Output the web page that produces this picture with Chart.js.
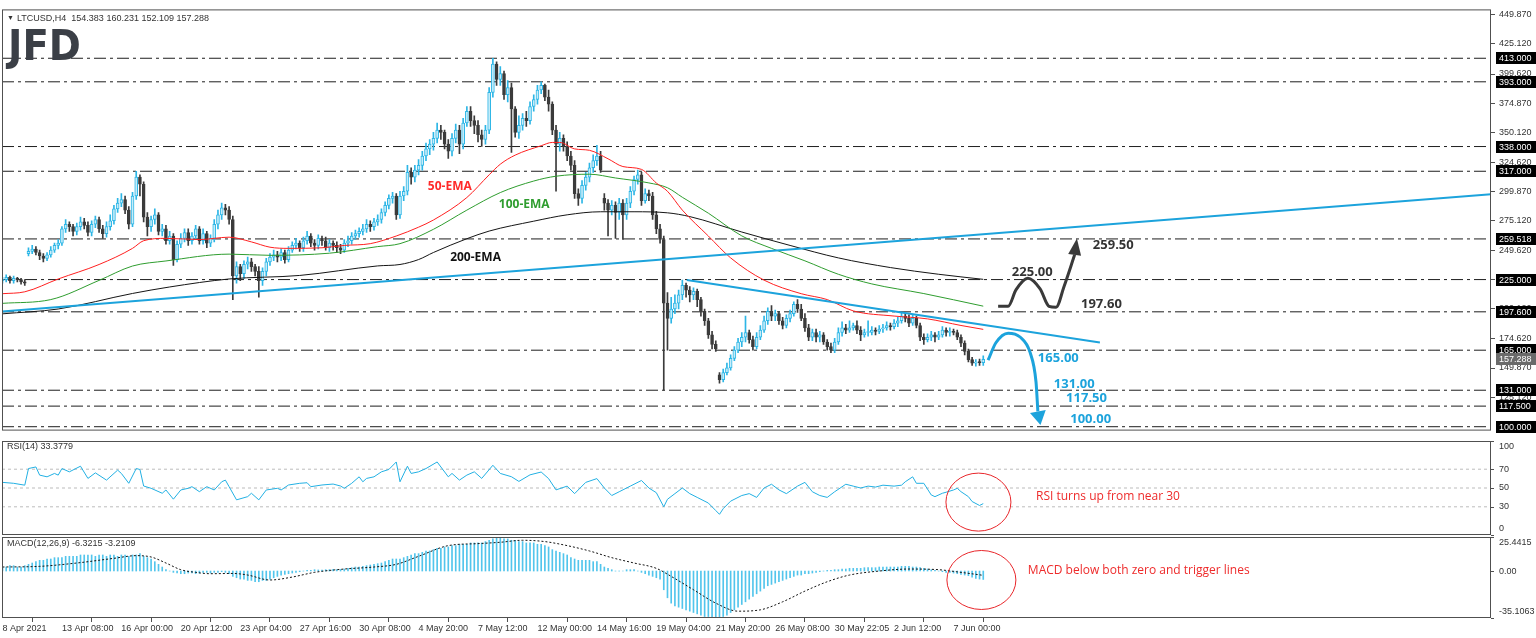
<!DOCTYPE html>
<html>
<head>
<meta charset="utf-8">
<script src="https://cdn.jsdelivr.net/npm/chart.js@4.4.0/dist/chart.umd.min.js"></script>
<style>
  body { margin: 0; padding: 0; background: #fff; }
  #wrap { position: relative; width: 1536px; height: 638px; overflow: hidden; background: #fff; }
  canvas { position: absolute; left: 0; }
  #main { top: 0; }
  #rsi { top: 440px; }
  #macd { top: 536px; }
</style>
</head>
<body>
<div id="wrap">
  <canvas id="main" width="1536" height="440"></canvas>
  <canvas id="rsi" width="1536" height="96"></canvas>
  <canvas id="macd" width="1536" height="102"></canvas>
</div>
<script>
// ---- price data (H4 candles) ----
const closes = [
  225,227,224,226,225,223,222,249,251,248,
  245,243,246,250,254,256,268,272,270,266,
  270,274,271,265,272,276,268,264,270,275,
  285,290,293,284,272,296,312,306,278,270,
  276,280,266,268,258,262,242,255,260,265,
  258,262,268,258,264,256,260,272,280,286,
  284,276,228,236,230,238,240,236,232,224,
  232,240,244,246,244,248,242,250,254,256,
  252,258,262,256,254,260,258,252,256,254,
  252,250,256,258,262,264,266,268,272,270,
  274,276,282,288,294,296,280,296,300,316,
  312,318,322,330,336,340,345,352,350,340,
  334,345,352,340,358,368,360,356,348,344,
  352,384,408,395,400,382,388,370,350,356,
  362,360,372,378,386,390,380,374,352,340,
  345,338,330,322,298,294,305,312,320,326,
  330,318,290,284,288,282,290,280,290,300,
  310,314,292,298,296,280,268,259,205,192,
  200,205,212,220,216,212,215,208,198,190,
  178,170,166,140,146,150,158,165,172,176,
  180,174,168,176,182,190,198,194,196,190,
  186,192,196,204,200,192,184,176,180,176,
  178,172,168,165,172,180,184,182,184,186,
  182,178,180,180,182,181,183,184,186,185,
  188,190,194,192,188,192,186,176,174,176,
  178,176,178,182,180,181,180,176,171,164,
  157,154,154.4,154.383,157.288
];
const highs = [
  227,229,228,228,227,226,225,252,254,253,
  250,247,248,253,256,259,270,276,274,272,
  273,278,277,274,275,279,278,271,274,280,
  288,294,298,296,287,299,317,314,308,282,
  279,285,282,272,271,266,264,258,264,268,
  268,265,271,270,268,266,263,276,284,290,
  289,287,279,240,238,241,244,243,238,236,
  235,243,247,250,249,251,250,253,257,260,
  258,261,266,264,259,263,262,261,259,258,
  257,255,259,262,265,267,269,272,276,275,
  277,280,285,291,297,299,298,300,304,322,
  320,322,327,334,341,344,350,358,356,352,
  344,349,357,356,362,372,372,364,360,352,
  356,388,413,410,406,402,394,392,372,364,
  366,368,376,382,390,393,391,386,376,356,
  350,348,342,334,326,302,309,316,324,331,
  339,334,298,293,292,291,294,293,294,304,
  313,318,316,302,301,299,283,272,262,214,
  210,212,216,224.5,222,219,218,217,210,200,
  192,181,173,146,149,154,161,168,175,180,
  194,182,177,180,186,194,201,203,199,198,
  193,195,199,206,208,204,196,187,183,183,
  181,180,174,171,175,184,189,187,190,188,
  190,185,183,190,185,184,186,187,189,188,
  191,193,197,196,195,195,194,188,179,179,
  181,180,181,185,184,184,183,182,178,173,
  166,159,157,157.5,160.231
];
const lows = [
  222,223,222,222,223,221,220,245,247,246,
  242,240,241,244,248,251,254,265,266,262,
  263,267,268,262,262,269,265,260,261,267,
  272,282,287,281,268,270,293,296,274,262,
  266,272,263,262,255,255,237,240,252,257,
  254,255,259,255,255,252,253,257,268,276,
  280,272,208,222,224,226,234,232,228,210,
  220,228,237,241,240,241,239,240,248,251,
  249,249,255,253,250,251,254,250,249,250,
  248,247,248,253,255,259,261,263,265,266,
  267,271,273,279,285,290,276,277,292,297,
  306,308,314,318,326,331,335,341,344,336,
  328,330,341,332,336,355,355,349,342,338,
  340,349,380,390,390,378,376,333,346,345,
  352,355,357,368,374,383,377,368,348,300,
  334,334,326,318,294,288,290,301,308,316,
  322,316,284,262,280,260,276,259,276,286,
  297,306,288,290,292,276,264,256,131,165,
  188,196,200,208,210,206,208,202,194,186,
  175,166,164,137,138,144,148,156,163,168,
  172,171,165,166,174,180,187,190,190,187,
  183,184,189,194,197,190,181,173,173,172,
  172,170,165,163,163,170,177,179,180,182,
  179,173,176,177,178,178,179,180,182,182,
  183,185,188,189,185,186,184,173,170,172,
  173,172,174,176,177,177,178,174,168,161,
  155,152,151.5,152,152.109
];
// bars that opened away from the previous close (weekend gaps)
const gapOpens = { 0: 224, 7: 247, 162: 294, 193: 144 };

// moving averages, sampled along the drawn lines (bar index, value)
const ema50Bars = [0,6,15,26,35,38,44,53,61,67,72,77,86,92,99,106,112,116,125,131,134,138,145,148,150,154,158,163,167,172,176,179,183,190,196,205,215,222,229,240,249,258,264];
const ema50Vals = [213,214.6,225.5,237.8,251.5,258,260,259,261,257,252.5,251.5,252,254,255.5,262,269.5,275.6,294.7,314,323,330.7,338.7,341.5,341.5,336,334.8,327.6,321,318.6,307,300,284,262,243.4,224.5,213,208,198.4,194,191.6,186,182.7];
const ema100Bars = [0,13,26,35,44,61,72,88,101,107,116,125,134,143,149,158,165,174,179,183,190,199,207,216,225,234,248,264];
const ema100Vals = [204.8,208,224.3,236.5,240.8,246.6,245.6,247.4,253,255.5,267.7,284,298.9,308.7,312.8,314.5,311.3,307.1,303,294.9,281.4,262.1,251.5,240.9,229.5,221.3,213.1,202.4];
const ema200Bars = [0,15,35,45,61,80,101,107,112,116,125,131,143,152,161,170,179,185,199,212,225,239,252,264];
const ema200Vals = [195.9,200,213.2,218.7,225.5,228.5,236.6,237.8,242,248,259.7,266.2,274.6,280,282.6,282.6,281.7,278.5,265.4,254,243.4,235.2,229.5,225.2];

// horizontal support / resistance levels and right axis ticks
const levels = [413, 393, 338, 317, 259.518, 225, 197.6, 165, 131, 117.5, 100];
const priceTicks = [449.87, 425.12, 399.62, 374.87, 350.12, 324.62, 299.87, 275.12, 249.62, 224.87, 200.12, 174.62, 149.87, 125.12];
const lastPrice = 157.288;

// trend lines: [bar, price] end points
const upTrend = [[-0.13, 197.9], [400.67, 297.5]];
const downTrend = [[184.2, 224.7], [295.4, 171.5]];

// scenario arrows
const blackArrowBars = [268.0, 270.7, 272.8, 276.0, 279.3, 281.7, 283.6, 285.7, 288.6];
const blackArrowVals = [202.3, 202.3, 216.2, 226.1, 217.1, 202.3, 201.5, 218.7, 246];
const blackArrowTip = [289.2, 259.8];
const blueArrowBars = [265.3, 267.4, 270.7, 273.9, 276.6, 278.2, 278.7];
const blueArrowVals = [156.5, 171.3, 179.5, 176.2, 163.1, 138, 113];
const blueArrowTip = [279.4, 101.4];

// RSI(14)
const rsiBars = [0,3,6,7,9,10,12,14,15,16,18,21,23,25,28,31,32,34,36,37,38,40,43,44,46,48,50,51,53,55,57,59,60,61,63,66,67,69,71,74,75,77,80,82,83,86,89,91,92,94,96,97,98,100,102,104,106,107,109,110,112,114,117,120,121,123,125,127,129,132,134,137,139,142,145,147,149,152,154,157,160,162,164,166,169,172,174,176,178,179,181,183,185,187,190,192,193,194,196,199,201,203,205,207,209,211,214,216,218,220,222,224,227,229,231,233,235,237,240,242,243,245,246,248,250,251,253,254,256,257,258,260,261,263,264];
const rsiVals = [56,55,53,70.7,72.4,63.7,61.9,65.5,63.7,70.7,67.2,73.2,60.2,66.1,58.4,69,65.5,55,70.7,69.7,52.1,49.7,44.4,47.9,38.1,47.9,49.7,51.4,46.1,51.4,47.9,56.6,58.4,51.4,37.4,40.8,44.4,37.4,47.9,49.7,47.9,53.2,55,55.6,51.4,53.2,54.2,52.1,49.7,55,61.9,56.6,60.2,61.9,67.2,69.7,77.7,56.6,73.2,65.5,67.2,70.7,77.7,61.9,65.5,58.4,63.7,67.2,60.2,74.2,65.5,62,57,64,67,60,48,52,44,56,60,50,42,46,52,58,50,45,30,38,44,50,44,40,34,26,22,28,36,42,44,40,50,54,48,44,52,56,46,42,40,46,54,52,50,52,51,53,52,53,56.6,61.9,55,55,42.6,40.8,44.4,45.5,47.9,49.7,46.1,40.8,35.6,31.4,33.38];
const rsiLevels = [70, 50, 30];

// MACD(12,26,9): histogram per bar, signal line sampled
const macdHist = [
  3,3,4,4,3,3,4,5,6,
  7,8,8,9,9,10,10,10,11,11,11,11,12,
  12,12,12,11,12,12,11,12,12,11,12,12,11,12,12,13,
  11,10,9,7,5,3,1,0,
  -1,-1.5,-2,-2,-1.5,-1.5,-2,-1.5,
  -1,-1,-1.5,-1,-1,-0.5,-1,-2,
  -4,-5,-6,-6,-7,-7,-8,-8,-7,-7,-6,
  -5,-4,-3,-2.5,-2,-1.5,-1,-0.5,
  0,0.5,0.5,1,0.8,0.8,1,1,1.2,1,1.2,1.5,
  2,2.5,3,3,3.5,4,4.5,5,5.5,6,7,8,9,9,9,
  10,11,12,13,13,14,15,15,16,17,17,18,18,19,19,20,20,20,21,
  21,21,21,22,23,24,25.4,25,24,
  24,23,23,22,22,21,21,21,20,20,19,18,
  16,15,14,13,12,10,9,8,8,8,8,7,7,
  5,3,2,1,0,0,0,1,1,1,
  0,-1,-2,-3,-4,-5,-6,
  -14,-20,-24,-26,-27,-28,-29,-30,-31,-32,-33,-34,-34,-35,-35,
  -35.1,-34,-33,-31,-29,-27,-25,-23,-21,-19,-17,-15,-13,
  -11,-10,-9,-8,-7,-6,-5,-4,-3,-3,-2,-2,-1.5,
  -1,-0.5,0,0.5,0.5,1,1,1.5,1.5,2,2,2,2,2.5,2.5,2.5,2.5,
  3,3,3,3,3,3,3.5,3.5,3.5,3,3,2.5,2,1.5,1,
  0.5,0,-0.5,-1,-1,-1.5,-2,-2.5,-3,-3.5,-4.5,-5.5,-6,-6.3
];
const sigBars = [0,10,20,30,36,40,44,48,52,56,62,66,72,78,84,92,100,106,112,120,128,134,140,146,152,158,164,170,176,180,186,192,198,204,210,216,222,228,236,244,252,258,264];
const sigVals = [3,3.5,6,9.5,11.5,10.5,6,1,-1,-2,-1.8,-3,-6.7,-4.5,-1,1.5,3,5,11,19,20.5,21.5,23,22,19,15,10,6,2,-4,-14,-24,-30,-29,-23,-15,-8,-3,0,1.5,1,-1,-3.21];

// time axis
const xLabelBars = [0,16,32,48,64,80,96,112,128,144,160,176,192,208,224,240,256];
const xLabels = ['8 Apr 2021','13 Apr 08:00','16 Apr 00:00','20 Apr 12:00','23 Apr 04:00','27 Apr 16:00','30 Apr 08:00','4 May 20:00','7 May 12:00','12 May 00:00','14 May 16:00','19 May 04:00','21 May 20:00','26 May 08:00','30 May 22:05','2 Jun 12:00','7 Jun 00:00'];

// ---- layout / style ----
const X_MIN = -0.13, X_MAX = 400.67;
const P_MIN = 96.7, P_MAX = 454.5;
const MACD_MIN = -35.1063, MACD_MAX = 25.4415;
const FAMILY = '"Liberation Sans", Arial, sans-serif';
const FRAME = '#505050';
const BULL_LINE = '#2db6e6', BULL_FILL = '#c6ecf9', BEAR = '#3b3b3b';
const BLUE = '#1ca3dc';

const opens = closes.map((c, i) => (gapOpens[i] !== undefined ? gapOpens[i] : closes[i - 1]));
const isBull = closes.map((c, i) => c >= opens[i]);
const pts = (bars, vals) => bars.map((b, i) => ({ x: b, y: vals[i] }));

// notes on the price panel, anchored at (bar, price), left/middle
const priceNotes = [
  { text: '50-EMA', bar: 114.5, price: 303.9, color: '#ff2a2a', font: 'bold 12px "Open Sans"' },
  { text: '100-EMA', bar: 133.6, price: 288.3, color: '#2f9d2f', font: 'bold 12px "Open Sans"' },
  { text: '200-EMA', bar: 120.5, price: 243.3, color: '#111', font: 'bold 12px "Open Sans"' },
  { text: '225.00', bar: 271.7, price: 231, color: '#333', font: 'bold 13px "Open Sans"' },
  { text: '259.50', bar: 293.5, price: 253.9, color: '#333', font: 'bold 13px "Open Sans"' },
  { text: '197.60', bar: 290.3, price: 204, color: '#333', font: 'bold 13px "Open Sans"' },
  { text: '165.00', bar: 278.7, price: 158.1, color: BLUE, font: 'bold 13px "Open Sans"' },
  { text: '131.00', bar: 283.0, price: 136, color: BLUE, font: 'bold 13px "Open Sans"' },
  { text: '117.50', bar: 286.3, price: 123.8, color: BLUE, font: 'bold 13px "Open Sans"' },
  { text: '100.00', bar: 287.4, price: 106.6, color: BLUE, font: 'bold 13px "Open Sans"' }
];

function frame(ctx, a) {
  ctx.strokeStyle = FRAME;
  ctx.lineWidth = 1;
  ctx.strokeRect(a.left + 0.5, a.top + 0.5, a.right - a.left - 1, a.bottom - a.top - 1);
}

function arrowHead(ctx, x, y, bars, vals, tip, color, half) {
  const bx = x.getPixelForValue(bars[bars.length - 1]);
  const by = y.getPixelForValue(vals[vals.length - 1]);
  const tx = x.getPixelForValue(tip[0]);
  const ty = y.getPixelForValue(tip[1]);
  const len = Math.hypot(tx - bx, ty - by);
  const nx = -(ty - by) / len, ny = (tx - bx) / len;
  ctx.fillStyle = color;
  ctx.beginPath();
  ctx.moveTo(tx, ty);
  ctx.lineTo(bx + nx * half, by + ny * half);
  ctx.lineTo(bx - nx * half, by - ny * half);
  ctx.closePath();
  ctx.fill();
}

function sideLabels(ctx, a, scale, items) {
  ctx.font = '9px ' + FAMILY;
  ctx.fillStyle = '#333';
  ctx.strokeStyle = FRAME;
  ctx.textAlign = 'left';
  ctx.textBaseline = 'middle';
  items.forEach(([v, t]) => {
    const py = scale.getPixelForValue(v);
    const ly = Math.min(Math.max(py, a.top + 6), a.bottom - 6);
    ctx.beginPath();
    ctx.moveTo(a.right, Math.round(py) + 0.5);
    ctx.lineTo(a.right + 3, Math.round(py) + 0.5);
    ctx.stroke();
    ctx.fillText(t, a.right + 8, ly);
  });
}

const mainDecor = {
  id: 'mainDecor',
  afterDraw(chart) {
    const { ctx, chartArea: a, scales: { x, y } } = chart;
    ctx.save();
    frame(ctx, a);
    arrowHead(ctx, x, y, blackArrowBars, blackArrowVals, blackArrowTip, '#3a3a3a', 6.5);
    arrowHead(ctx, x, y, blueArrowBars, blueArrowVals, blueArrowTip, BLUE, 8);

    ctx.textAlign = 'left';
    ctx.textBaseline = 'middle';
    priceNotes.forEach(n => {
      ctx.font = n.font;
      ctx.fillStyle = n.color;
      ctx.fillText(n.text, x.getPixelForValue(n.bar), y.getPixelForValue(n.price));
    });

    // level price boxes on the right axis
    ctx.font = '9px ' + FAMILY;
    levels.forEach(v => {
      const py = Math.round(y.getPixelForValue(v));
      ctx.fillStyle = '#000';
      ctx.fillRect(a.right + 5, py - 6, 40, 12);
      ctx.fillStyle = '#fff';
      ctx.fillText(v.toFixed(3), a.right + 8, py + 0.5);
    });
    const lp = Math.round(y.getPixelForValue(lastPrice));
    ctx.fillStyle = '#6a6a6a';
    ctx.fillRect(a.right + 5, lp - 6, 40, 12);
    ctx.fillStyle = '#fff';
    ctx.fillText(lastPrice.toFixed(3), a.right + 8, lp + 0.5);

    // title line
    ctx.fillStyle = '#333';
    ctx.font = '7px ' + FAMILY;
    ctx.fillText('\u25BC', a.left + 5, a.top + 9);
    ctx.font = '9px ' + FAMILY;
    ctx.fillText('LTCUSD,H4  154.383 160.231 152.109 157.288', a.left + 15, a.top + 9);

    // logo
    ctx.save();
    ctx.translate(a.left + 6, a.top + 51);
    ctx.scale(0.92, 1);
    ctx.font = 'bold 42px "DejaVu Sans"';
    ctx.fillStyle = '#3b3f46';
    ctx.textBaseline = 'alphabetic';
    ctx.fillText('JFD', 0, 0);
    ctx.restore();
    ctx.restore();
  }
};

const rsiDecor = {
  id: 'rsiDecor',
  afterDraw(chart) {
    const { ctx, chartArea: a, scales: { x, y } } = chart;
    ctx.save();
    frame(ctx, a);
    sideLabels(ctx, a, y, [[100, '100'], [70, '70'], [50, '50'], [30, '30'], [0, '0']]);
    ctx.fillStyle = '#333';
    ctx.font = '9px ' + FAMILY;
    ctx.fillText('RSI(14) 33.3779', a.left + 5, a.top + 6);
    ctx.strokeStyle = '#e8262a';
    ctx.lineWidth = 1;
    ctx.beginPath();
    ctx.ellipse(x.getPixelForValue(262.7), y.getPixelForValue(35), 32.5, 29, 0, 0, Math.PI * 2);
    ctx.stroke();
    ctx.fillStyle = '#ee2b2b';
    ctx.font = '12px "Open Sans"';
    ctx.fillText('RSI turns up from near 30', x.getPixelForValue(278.2), y.getPixelForValue(40.5));
    ctx.restore();
  }
};

const macdDecor = {
  id: 'macdDecor',
  afterDraw(chart) {
    const { ctx, chartArea: a, scales: { x, y } } = chart;
    ctx.save();
    frame(ctx, a);
    sideLabels(ctx, a, y, [[MACD_MAX, '25.4415'], [0, '0.00'], [MACD_MIN, '-35.1063']]);
    ctx.fillStyle = '#333';
    ctx.font = '9px ' + FAMILY;
    ctx.fillText('MACD(12,26,9) -6.3215 -3.2109', a.left + 5, a.top + 7);
    ctx.strokeStyle = '#e8262a';
    ctx.lineWidth = 1;
    ctx.beginPath();
    ctx.ellipse(x.getPixelForValue(263.5), y.getPixelForValue(-6.7), 34.5, 29.5, 0, 0, Math.PI * 2);
    ctx.stroke();
    ctx.fillStyle = '#ee2b2b';
    ctx.font = '12px "Open Sans"';
    ctx.fillText('MACD below both zero and trigger lines', x.getPixelForValue(276), y.getPixelForValue(0));
    ctx.restore();
  }
};

const base = {
  responsive: false,
  animation: false,
  events: [],
  plugins: { legend: { display: false }, tooltip: { enabled: false } }
};
const hiddenX = { type: 'linear', min: X_MIN, max: X_MAX, offset: false, display: false };
const fixedRight = s => { s.width = 45; };

// ---- price panel ----
const levelSets = levels.map(v => ({
  type: 'line', order: 10, data: [{ x: X_MIN, y: v }, { x: X_MAX, y: v }],
  borderColor: '#1e1e1e', borderWidth: 1, borderDash: [12, 4, 3, 4], pointRadius: 0
}));
const trendSets = [upTrend, downTrend].map(t => ({
  type: 'line', order: 4, data: t.map(p => ({ x: p[0], y: p[1] })),
  borderColor: BLUE, borderWidth: 2, pointRadius: 0
}));
const emaSet = (bars, vals, color) => ({
  type: 'line', order: 5, data: pts(bars, vals), borderColor: color, borderWidth: 1,
  pointRadius: 0, tension: 0.4, cubicInterpolationMode: 'monotone'
});

new Chart(document.getElementById('main'), {
  type: 'bar',
  data: {
    datasets: [
      ...levelSets,
      {
        type: 'bar', order: 8, grouped: false, barThickness: 1,
        data: highs.map((h, i) => ({ x: i, y: [lows[i], h] })),
        backgroundColor: isBull.map(b => (b ? BULL_LINE : BEAR))
      },
      {
        type: 'bar', order: 7, grouped: false, barThickness: 3, minBarLength: 1,
        data: closes.map((c, i) => ({ x: i, y: [opens[i], c] })),
        backgroundColor: isBull.map(b => (b ? BULL_FILL : BEAR)),
        borderColor: isBull.map(b => (b ? BULL_LINE : BEAR)),
        borderWidth: 1, borderSkipped: false
      },
      emaSet(ema50Bars, ema50Vals, '#ff2020'),
      emaSet(ema100Bars, ema100Vals, '#2f9d2f'),
      emaSet(ema200Bars, ema200Vals, '#151515'),
      ...trendSets,
      {
        type: 'line', order: 1, data: pts(blackArrowBars, blackArrowVals), borderColor: '#3a3a3a',
        borderWidth: 3, pointRadius: 0, tension: 0.4, cubicInterpolationMode: 'monotone'
      },
      {
        type: 'line', order: 1, data: pts(blueArrowBars, blueArrowVals), borderColor: BLUE,
        borderWidth: 3, pointRadius: 0, tension: 0.4, cubicInterpolationMode: 'monotone'
      }
    ]
  },
  options: Object.assign({}, base, {
    layout: { padding: { left: 2, top: 2, right: 0, bottom: 1 } },
    scales: {
      x: hiddenX,
      y: {
        position: 'right', min: P_MIN, max: P_MAX,
        afterFit: fixedRight,
        afterBuildTicks: s => { s.ticks = priceTicks.map(v => ({ value: v })); },
        ticks: { callback: v => v.toFixed(3), font: { family: FAMILY, size: 9 }, color: '#333', padding: 4 },
        grid: { drawOnChartArea: false, tickLength: 4, color: FRAME },
        border: { display: false }
      }
    }
  }),
  plugins: [mainDecor]
});

// ---- RSI panel ----
new Chart(document.getElementById('rsi'), {
  type: 'line',
  data: {
    datasets: [
      { order: 1, data: pts(rsiBars, rsiVals), borderColor: '#22b0e3', borderWidth: 1, pointRadius: 0 },
      ...rsiLevels.map(v => ({
        order: 5, data: [{ x: X_MIN, y: v }, { x: X_MAX, y: v }],
        borderColor: '#bcbcbc', borderWidth: 1, borderDash: [3, 3], pointRadius: 0
      }))
    ]
  },
  options: Object.assign({}, base, {
    layout: { padding: { left: 2, top: 1, right: 0, bottom: 1 } },
    scales: {
      x: hiddenX,
      y: {
        position: 'right', min: 0, max: 100, afterFit: fixedRight,
        ticks: { display: false }, grid: { display: false }, border: { display: false }
      }
    }
  }),
  plugins: [rsiDecor]
});

// ---- MACD panel + time axis ----
new Chart(document.getElementById('macd'), {
  type: 'bar',
  data: {
    datasets: [
      {
        type: 'line', order: 1, data: pts(sigBars, sigVals), borderColor: '#111', borderWidth: 1,
        borderDash: [2, 2], pointRadius: 0, tension: 0.4, cubicInterpolationMode: 'monotone'
      },
      {
        type: 'bar', order: 2, grouped: false, barThickness: 1,
        data: macdHist.map((v, i) => ({ x: i, y: v })), backgroundColor: '#52c5ec'
      }
    ]
  },
  options: Object.assign({}, base, {
    layout: { padding: { left: 2, top: 1, right: 0, bottom: 0 } },
    scales: {
      x: {
        type: 'linear', min: X_MIN, max: X_MAX, offset: false, position: 'bottom',
        afterBuildTicks: s => { s.ticks = xLabelBars.map(v => ({ value: v })); },
        afterFit: s => { s.height = 20; },
        ticks: {
          callback: (v, i) => xLabels[i], align: 'start', autoSkip: false,
          maxRotation: 0, minRotation: 0, padding: 1,
          font: { family: FAMILY, size: 9 }, color: '#333'
        },
        grid: { drawOnChartArea: false, drawTicks: true, tickLength: 4, color: FRAME },
        border: { display: false }
      },
      y: {
        position: 'right', min: MACD_MIN, max: MACD_MAX, afterFit: fixedRight,
        ticks: { display: false }, grid: { display: false }, border: { display: false }
      }
    }
  }),
  plugins: [macdDecor]
});
</script>
</body>
</html>
